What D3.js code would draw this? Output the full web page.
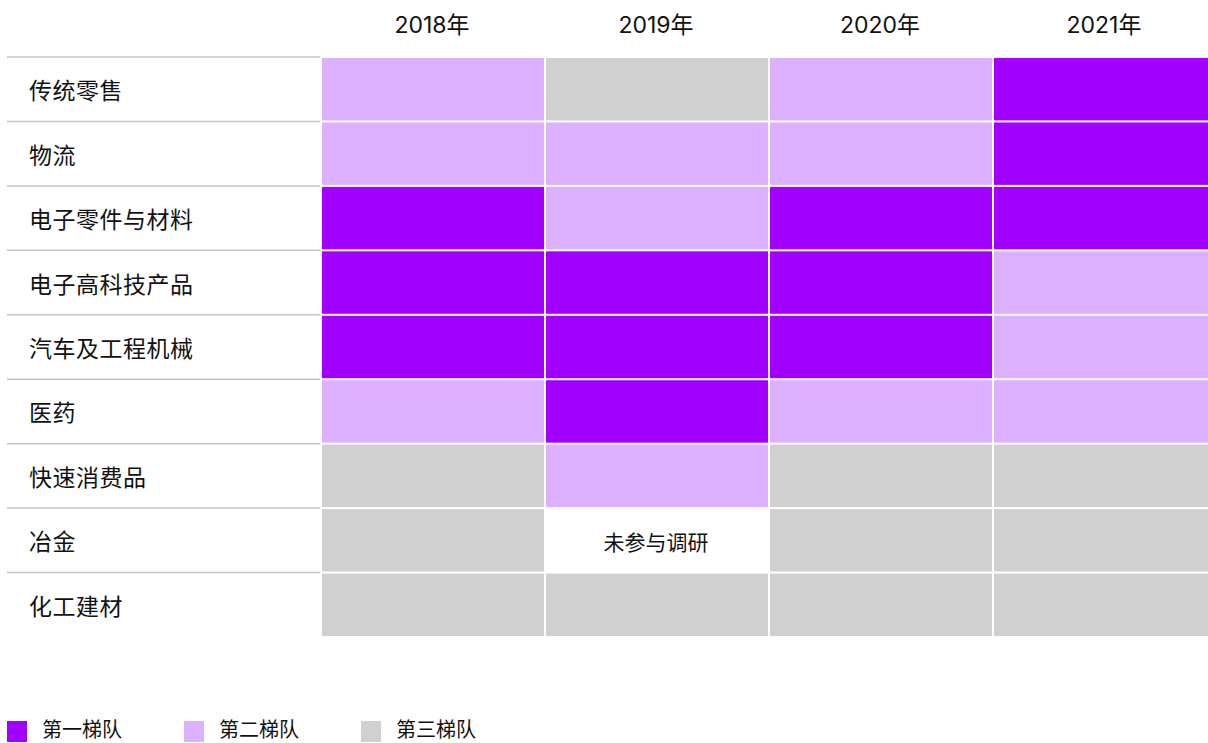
<!DOCTYPE html>
<html>
<head>
<meta charset="utf-8">
<script src="https://d3js.org/d3.v7.min.js"></script>
<style>
  body { margin: 0; background: #fff; }
  text { font-family: Inter, "Noto Sans CJK SC", sans-serif; fill: #111; }
</style>
</head>
<body>
<div id="chart"></div>
<script>
// data
var years = ["2018年", "2019年", "2020年", "2021年"];
var industries = ["传统零售", "物流", "电子零件与材料", "电子高科技产品", "汽车及工程机械", "医药", "快速消费品", "冶金", "化工建材"];
// tier per industry per year: 1 = 第一梯队, 2 = 第二梯队, 3 = 第三梯队, 0 = 未参与调研
var tiers = [
  [2, 3, 2, 1],
  [2, 2, 2, 1],
  [1, 2, 1, 1],
  [1, 1, 1, 2],
  [1, 1, 1, 2],
  [2, 1, 2, 2],
  [3, 2, 3, 3],
  [3, 0, 3, 3],
  [3, 3, 3, 3]
];
var tierNames = ["第一梯队", "第二梯队", "第三梯队"];
var missingLabel = "未参与调研";

var W = 1208, H = 743;
var svg = d3.select("#chart").append("svg").attr("width", W).attr("height", H);

var x = d3.scaleBand().domain(years).range([321, 1217]).paddingInner(0);
var y = d3.scaleBand().domain(industries).range([57, 637]).paddingInner(0);
var color = d3.scaleOrdinal().domain([1, 2, 3]).range(["#a100ff", "#dcb1ff", "#d0d0d0"]);

var cells = [];
industries.forEach(function(ind, i) {
  years.forEach(function(yr, j) {
    cells.push({industry: ind, year: yr, tier: tiers[i][j]});
  });
});

// cells
svg.append("g").selectAll("rect").data(cells.filter(function(d) { return d.tier > 0; }))
  .enter().append("rect")
  .attr("x", function(d) { return x(d.year) + 1; })
  .attr("y", function(d) { return y(d.industry) + 1; })
  .attr("width", x.bandwidth() - 2)
  .attr("height", y.bandwidth() - 2)
  .attr("fill", function(d) { return color(d.tier); });

svg.append("g").selectAll("text").data(cells.filter(function(d) { return d.tier === 0; }))
  .enter().append("text")
  .attr("x", function(d) { return x(d.year) + x.bandwidth() / 2 - 1; })
  .attr("y", function(d) { return y(d.industry) + y.bandwidth() / 2 + 2; })
  .attr("text-anchor", "middle")
  .attr("dominant-baseline", "central")
  .style("font-size", "21px")
  .text(missingLabel);

// row separators + labels
var rows = svg.append("g");
rows.selectAll("line").data(industries).enter().append("line")
  .attr("x1", 7).attr("x2", 320)
  .attr("y1", function(d) { return y(d); })
  .attr("y2", function(d) { return y(d); })
  .attr("stroke", "#c4c4c4").attr("stroke-width", 1.5);
rows.selectAll("text").data(industries).enter().append("text")
  .attr("x", 29)
  .attr("y", function(d) { return y(d) + y.bandwidth() / 2 + 2; })
  .attr("dominant-baseline", "central")
  .style("font-size", "23px")
  .style("letter-spacing", "0.5px")
  .text(function(d) { return d; });

// year headers
svg.append("g").selectAll("text").data(years).enter().append("text")
  .attr("x", function(d) { return x(d) + x.bandwidth() / 2 - 1; })
  .attr("y", 25)
  .attr("text-anchor", "middle")
  .attr("dominant-baseline", "central")
  .style("font-size", "23px")
  .text(function(d) { return d; });

// legend
var lg = svg.append("g").selectAll("g").data(tierNames).enter().append("g")
  .attr("transform", function(d, i) { return "translate(" + (7 + i * 177) + ",721)"; });
lg.append("rect").attr("width", 20).attr("height", 21)
  .attr("fill", function(d, i) { return color(i + 1); });
lg.append("text").attr("x", 35).attr("y", 9)
  .attr("dominant-baseline", "central")
  .style("font-size", "20px")
  .text(function(d) { return d; });
</script>
</body>
</html>
